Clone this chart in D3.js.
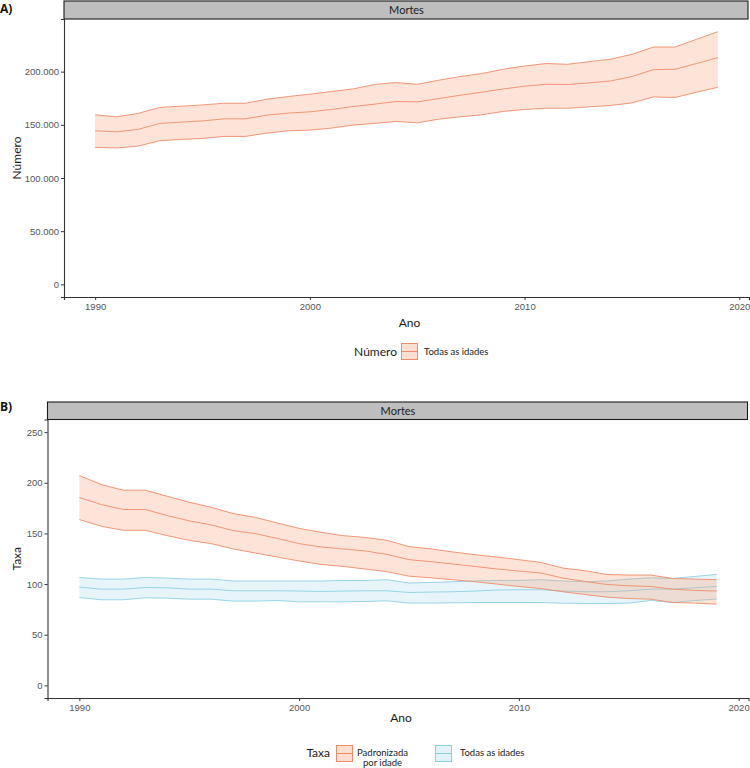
<!DOCTYPE html>
<html>
<head>
<meta charset="utf-8">
<script src="https://cdn.jsdelivr.net/npm/d3@7/dist/d3.min.js"></script>
<style>
  html, body { margin: 0; padding: 0; background: #fff; }
  svg { display: block; }
</style>
</head>
<body>
<svg id="chart" width="750" height="768"></svg>
<script>
// ---------------- DATA ----------------
const years = [1990,1991,1992,1993,1994,1995,1996,1997,1998,1999,2000,2001,2002,2003,2004,
               2005,2006,2007,2008,2009,2010,2011,2012,2013,2014,2015,2016,2017,2018,2019];

// Panel A: Mortes (Número), Todas as idades
const deathsMean  = [144400,143400,145700,151300,152500,153700,155600,155600,159100,161000,
                     162200,164400,167200,169400,171900,171600,174700,177800,180600,183700,
                     186300,188100,187900,189400,191200,195400,201900,202200,207600,213200];
const deathsUpper = [159400,157500,160700,166300,167500,168700,170300,170300,174100,176600,
                     178800,181300,183700,187900,189700,188100,191900,195400,198200,202200,
                     205300,207600,206900,209400,211600,216300,223100,223100,230300,237600];
const deathsLower = [128800,128200,130000,135000,136300,137200,139100,139100,142200,144400,
                     145000,146900,149700,151300,153200,151900,155300,157500,159400,162600,
                     164400,165600,165600,166900,168200,170600,176200,175700,180600,185300];

// Panel B: Mortes (Taxa), Padronizada por idade
const rateStdMean  = [185.4,178.5,173.6,173.6,167.6,162.4,158.4,152.8,149.8,145.1,
                      139.9,136.6,134.7,132.7,129.3,124.1,122.1,119.8,117.4,114.9,
                      112.9,110.9,105.9,102.6,99.6,98.3,97.6,95.0,93.7,93.1];
const rateStdUpper = [207.2,198.3,192.7,192.7,186.7,180.8,175.8,169.6,165.9,160.4,
                      155.0,151.1,147.8,146.1,143.2,137.0,134.7,131.7,129.0,126.7,
                      124.1,121.4,115.8,113.2,109.5,108.9,108.9,105.5,104.9,104.3];
const rateStdLower = [163.7,157.0,153.1,153.1,147.8,143.2,139.9,134.7,130.7,126.7,
                      122.8,119.4,117.4,114.9,112.2,107.8,106.2,104.3,102.3,100.0,
                      97.6,95.6,92.4,89.7,87.1,85.7,85.1,81.8,81.2,80.2];

// Panel B: Mortes (Taxa), Todas as idades
const rateAllMean  = [97.0,95.0,95.0,96.6,96.3,95.0,95.0,93.4,93.4,93.4,
                      93.1,92.7,93.1,93.4,93.4,91.7,92.1,92.4,93.1,94.1,
                      94.4,94.4,93.1,92.4,92.4,93.4,95.0,95.0,96.3,97.6];
const rateAllUpper = [106.5,104.9,104.9,106.5,105.9,104.9,104.9,103.0,103.0,103.0,
                      103.0,103.0,103.6,103.6,104.3,101.0,101.6,102.3,103.0,103.6,
                      103.6,104.3,103.0,102.3,103.0,104.9,106.2,105.5,107.5,109.5];
const rateAllLower = [86.7,84.5,84.5,86.4,86.1,85.1,85.1,83.2,83.2,83.8,
                      82.5,82.5,82.5,82.8,83.5,81.2,81.2,81.5,81.8,81.8,
                      81.8,81.8,81.2,80.8,80.8,81.2,83.8,81.8,83.8,85.1];

const yearTicks   = [1990, 2000, 2010, 2020];
const numberTicks = [0, 50000, 100000, 150000, 200000];
const numberTickLabels = ["0", "50.000", "100.000", "150.000", "200.000"];
const rateTicks   = [0, 50, 100, 150, 200, 250];
const rateLimits  = [0, 250];

// ---------------- STYLE ----------------
const ORANGE_LINE = "#EE8C6A";
const ORANGE_FILL = "#F8A27F";
const BLUE_LINE   = "#8ECFE2";
const BLUE_FILL   = "#86CCE6";
const TICK_FONT   = "'Liberation Sans', Arial, sans-serif";
const TEXT_FONT   = "Lato, 'Open Sans', sans-serif";

const svg = d3.select("#chart");

function expand(ext, f) {
  const r = ext[1] - ext[0];
  return [ext[0] - r * f, ext[1] + r * f];
}

function panel(opt) {
  const g = svg.append("g");
  const x = d3.scaleLinear().domain(expand(d3.extent(years), 0.05)).range([opt.left, opt.right]);
  const y = d3.scaleLinear().domain(expand(opt.yLimits, 0.05)).range([opt.bottom, opt.top]);

  // strip
  g.append("rect")
    .attr("x", opt.left).attr("y", opt.stripTop)
    .attr("width", opt.right - opt.left - 1).attr("height", opt.top - opt.stripTop)
    .attr("fill", "#BEBEBE").attr("stroke", "#1a1a1a").attr("stroke-width", 1.1);
  g.append("text")
    .attr("x", (opt.left + opt.right) / 2).attr("y", (opt.stripTop + opt.top) / 2 + 4)
    .attr("text-anchor", "middle").attr("font-family", TEXT_FONT).attr("font-size", 11)
    .attr("fill", "#1a1a1a").text("Mortes");

  // series (ribbons)
  opt.series.forEach(s => {
    const rows = years.map((yr, i) => ({ yr, m: s.mean[i], u: s.upper[i], l: s.lower[i] }));
    g.append("path").datum(rows)
      .attr("d", d3.area().x(d => x(d.yr)).y0(d => y(d.l)).y1(d => y(d.u)))
      .attr("fill", s.fill).attr("fill-opacity", s.alpha).attr("stroke", "none");
    ["u", "m", "l"].forEach(k => {
      g.append("path").datum(rows)
        .attr("d", d3.line().x(d => x(d.yr)).y(d => y(d[k])))
        .attr("fill", "none").attr("stroke", s.line).attr("stroke-width", 0.9);
    });
  });

  // axes
  const xAxis = g.append("g").attr("transform", `translate(0,${opt.bottom})`)
    .call(d3.axisBottom(x).tickValues(yearTicks).tickFormat(d3.format("d")).tickSize(3).tickPadding(3));
  const yAxis = g.append("g").attr("transform", `translate(${opt.left},0)`)
    .call(d3.axisLeft(y).tickValues(opt.yTicks).tickFormat((d, i) => opt.yTickLabels[i]).tickSize(3).tickPadding(2));
  [xAxis, yAxis].forEach(a => {
    a.select(".domain").attr("stroke", "#333").attr("stroke-width", 1.1);
    a.selectAll(".tick line").attr("stroke", "#333");
    a.selectAll(".tick text").attr("font-family", TICK_FONT).attr("font-size", 9.5).attr("fill", "#555");
  });

  // axis titles
  g.append("text")
    .attr("x", (opt.left + opt.right) / 2 + 3).attr("y", opt.xTitleY)
    .attr("text-anchor", "middle").attr("font-family", TEXT_FONT).attr("font-size", 12)
    .attr("fill", "#1a1a1a").text("Ano");
  g.append("text")
    .attr("transform", `translate(${opt.yTitleX},${(opt.top + opt.bottom) / 2}) rotate(-90)`)
    .attr("text-anchor", "middle").attr("font-family", TEXT_FONT).attr("font-size", 12)
    .attr("fill", "#1a1a1a").text(opt.yTitle);

  // panel tag
  g.append("text")
    .attr("x", 0).attr("y", opt.tagY)
    .attr("font-family", "'Open Sans', sans-serif").attr("font-weight", "bold").attr("font-size", 12)
    .attr("fill", "#111").text(opt.tag);
  return g;
}

function legendKey(g, x, yTop, s) {
  g.append("rect").attr("x", x + 0.5).attr("y", yTop + 0.5).attr("width", 16).attr("height", 16)
    .attr("fill", s.fill).attr("fill-opacity", s.alpha + 0.05).attr("stroke", s.line).attr("stroke-width", 1);
  g.append("line").attr("x1", x + 0.5).attr("x2", x + 16.5).attr("y1", yTop + 8.5).attr("y2", yTop + 8.5)
    .attr("stroke", s.line).attr("stroke-width", 1);
}

const orangeStyle = { fill: ORANGE_FILL, alpha: 0.3, line: ORANGE_LINE };
const blueStyle   = { fill: BLUE_FILL,   alpha: 0.2, line: BLUE_LINE };

// ---------- Panel A ----------
const gA = panel({
  tag: "A)", tagY: 13,
  left: 64, right: 749, stripTop: 1, top: 19, bottom: 297,
  yLimits: [0, d3.max(deathsUpper)],
  yTicks: numberTicks, yTickLabels: numberTickLabels,
  yTitle: "Número", yTitleX: 21, xTitleY: 327,
  series: [Object.assign({ mean: deathsMean, upper: deathsUpper, lower: deathsLower }, orangeStyle)]
});
// legend A
gA.append("text").attr("x", 397).attr("y", 356).attr("text-anchor", "end")
  .attr("font-family", TEXT_FONT).attr("font-size", 12).attr("fill", "#1a1a1a").text("Número");
legendKey(gA, 401, 343, orangeStyle);
gA.append("text").attr("x", 424).attr("y", 355)
  .attr("font-family", TEXT_FONT).attr("font-size", 9.5).attr("fill", "#1a1a1a").text("Todas as idades");

// ---------- Panel B ----------
const gB = panel({
  tag: "B)", tagY: 411,
  left: 47.5, right: 748.5, stripTop: 402, top: 419.5, bottom: 698,
  yLimits: rateLimits,
  yTicks: rateTicks, yTickLabels: rateTicks.map(String),
  yTitle: "Taxa", yTitleX: 21, xTitleY: 722,
  series: [
    Object.assign({ mean: rateAllMean, upper: rateAllUpper, lower: rateAllLower }, blueStyle),
    Object.assign({ mean: rateStdMean, upper: rateStdUpper, lower: rateStdLower }, orangeStyle)
  ]
});
// legend B
gB.append("text").attr("x", 330).attr("y", 757).attr("text-anchor", "end")
  .attr("font-family", TEXT_FONT).attr("font-size", 12).attr("fill", "#1a1a1a").text("Taxa");
legendKey(gB, 336, 745, orangeStyle);
const lbl = gB.append("text").attr("font-family", TEXT_FONT).attr("font-size", 9.5)
  .attr("fill", "#1a1a1a").attr("text-anchor", "middle");
lbl.append("tspan").attr("x", 382.5).attr("y", 756).text("Padronizada");
lbl.append("tspan").attr("x", 382.5).attr("y", 766).text("por idade");
legendKey(gB, 435, 745, blueStyle);
gB.append("text").attr("x", 460).attr("y", 756)
  .attr("font-family", TEXT_FONT).attr("font-size", 9.5).attr("fill", "#1a1a1a").text("Todas as idades");
</script>
</body>
</html>
